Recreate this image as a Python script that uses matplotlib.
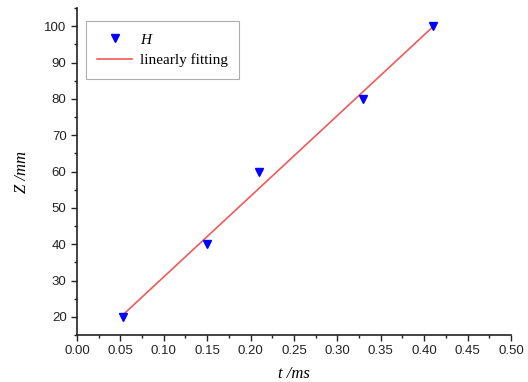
import numpy as np
import matplotlib
matplotlib.use("Agg")
import matplotlib.pyplot as plt
from matplotlib.ticker import MultipleLocator, FormatStrFormatter

plt.rcParams['mathtext.fontset'] = 'custom'
plt.rcParams['mathtext.it'] = 'Liberation Serif:italic'
plt.rcParams['mathtext.rm'] = 'Liberation Serif'

# measured points
t_ms = [0.053, 0.15, 0.21, 0.33, 0.41]
z_mm = [20, 40, 60, 80, 100]

# linear fit through the points
k, b = np.polyfit(t_ms, z_mm, 1)
t_fit = np.array([min(t_ms), max(t_ms)])
z_fit = k * t_fit + b

fig = plt.figure(figsize=(5.28, 3.82), dpi=100)
ax = fig.add_axes([0.1458, 0.123, 0.822, 0.856])

ax.plot(t_fit, z_fit, color='#f05a5a', lw=1.2, label='linearly fitting', zorder=2)
ax.plot(t_ms, z_mm, linestyle='none', marker='v', color='#0000ff', ms=6,
        label='$H$', zorder=3)

ax.set_xlim(0, 0.5)
ax.set_ylim(15, 105)
ax.xaxis.set_major_locator(MultipleLocator(0.05))
ax.xaxis.set_minor_locator(MultipleLocator(0.025))
ax.xaxis.set_major_formatter(FormatStrFormatter('%.2f'))
ax.set_yticks(range(20, 101, 10))
ax.yaxis.set_minor_locator(MultipleLocator(5))

for s in ['top', 'right']:
    ax.spines[s].set_visible(False)
for s in ['left', 'bottom']:
    ax.spines[s].set_linewidth(1.2)
    ax.spines[s].set_color('#222222')

ax.tick_params(which='major', direction='out', length=4, width=1, labelsize=9.5,
               colors='#222222')
ax.tick_params(which='minor', direction='out', length=2.5, width=1, colors='#222222')
for lab in ax.get_xticklabels() + ax.get_yticklabels():
    lab.set_family('Liberation Sans')

ax.set_xlabel('t /ms', family='Liberation Serif', style='italic', fontsize=12,
              labelpad=6)
ax.set_ylabel('Z /mm', family='Liberation Serif', style='italic', fontsize=12,
              labelpad=10)

handles, labels = ax.get_legend_handles_labels()
leg = ax.legend(handles[::-1], labels[::-1], loc='upper left',
                bbox_to_anchor=(0.02, 0.96), fancybox=False, edgecolor='#999999',
                prop={'family': 'Liberation Serif', 'size': 11},
                borderpad=0.75, handlelength=2.3, handletextpad=0.5,
                labelspacing=0.45, borderaxespad=0.0)
leg.get_frame().set_linewidth(0.8)

fig.savefig('out.png', dpi=100)
